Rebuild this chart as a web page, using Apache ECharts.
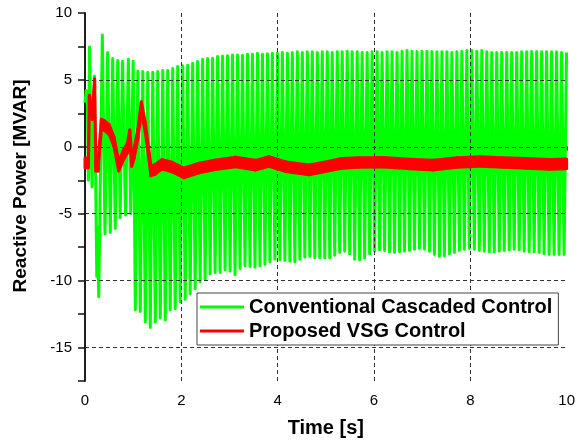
<!DOCTYPE html>
<html><head><meta charset="utf-8">
<script src="https://cdn.jsdelivr.net/npm/echarts@6/dist/echarts.min.js"></script>
<style>html,body{margin:0;padding:0;background:#fff}#c{width:578px;height:443px}</style>
</head><body><div id="c"></div>
<script>
// ---- axis ticks ----
const xGridTicks = [2, 4, 6, 8];
const yGridTicks = [-15, -10, -5, 0, 5];

// ---- Conventional Cascaded Control (green) ----
// irregular start-up extremes (time s, value MVAR)
const greenEarlyT = [0, 0.025, 0.05, 0.07, 0.093, 0.145, 0.197, 0.245, 0.262, 0.285, 0.36, 0.415, 0.47, 0.525, 0.575, 0.628, 0.68, 0.73, 0.78, 0.84, 0.9, 0.95, 1.0];
const greenEarlyV = [3.3, 4.2, 3.3, -2.5, 7.45, -3.0, 5.3, -9.7, -6.0, -11.2, 8.35, -6.5, 7.05, -6.4, 6.6, -6.1, 6.45, -5.3, 6.4, -5.1, 6.55, -5.0, 6.4];
// steady oscillation after t = 1.045 s, one trough + one peak per cycle
const greenCycleStart = 1.045;
const greenCyclePeriod = 0.1035;
const greenLow = [-12.2,-12.3,-13.1,-13.5,-13.1,-12.8,-12.95,-12.2,-12.1,-11.6,
  -11.4,-11.0,-10.6,-10.1,-9.9,-9.5,-9.4,-9.4,-9.2,-9.3,
  -9.55,-9.1,-8.9,-8.95,-9.0,-8.9,-8.8,-8.6,-8.4,-8.45,
  -8.5,-8.55,-8.6,-8.4,-8.25,-8.2,-8.3,-8.3,-8.3,-8.3,
  -8.1,-7.9,-7.8,-8.0,-8.4,-8.45,-8.3,-8.0,-7.8,-7.7,
  -7.75,-7.85,-7.9,-7.85,-7.8,-7.75,-7.65,-7.6,-7.65,-7.8,
  -8.05,-8.2,-8.15,-8.0,-7.9,-7.75,-7.65,-7.6,-7.65,-7.75,
  -7.8,-7.85,-7.85,-7.8,-7.75,-7.7,-7.65,-7.7,-7.8,-7.85,
  -7.85,-7.9,-8.0,-8.05,-8.05,-8.05,-8.05];
const greenHigh = [5.67,5.62,5.57,5.57,5.62,5.7,5.7,5.85,6.0,6.05,
  6.1,6.24,6.37,6.55,6.6,6.62,6.74,6.78,6.8,6.86,
  6.86,6.84,6.92,6.92,7.0,6.92,6.95,7.0,
  7.0,7.05,7.0,7.05,7.1,7.05,7.1,7.1,7.05,7.1,7.1,7.05,7.1,7.1,7.15,7.1,7.1,7.05,7.05,7.1,7.1,7.05,
  7.1,7.1,7.05,7.15,7.2,7.15,7.12,7.15,7.15,7.12,7.1,7.1,7.1,7.05,7.1,7.15,7.2,7.2,7.15,7.2,
  7.1,7.05,7.05,7.05,7.05,7.05,7.05,7.1,7.1,7.12,7.12,7.1,7.1,7.1,7.1,7.05,7.05];

// ---- Proposed VSG Control (red): centre of the noisy band ----
const redT = [0,0.07,0.09,0.12,0.15,0.2,0.225,0.27,0.34,0.4,
  0.5,0.6,0.7,0.8,0.88,0.93,0.97,1.02,1.1,1.17,
  1.25,1.37,1.45,1.6,1.8,2.05,2.37,2.71,3.13,3.54,
  3.82,4.17,4.65,4.99,5.33,5.68,6.2,6.75,7.23,7.72,
  8.2,8.68,9.17,9.65,10];
const redC = [-1.2,-1.2,3.5,2.8,2.4,4.7,-1.45,-1.45,1.7,1.6,
  1.3,0.4,-1.45,-0.6,-0.1,0.9,-1.1,-0.5,1.0,3.0,
  1.5,-1.8,-1.7,-1.3,-1.5,-1.95,-1.58,-1.34,-1.13,-1.37,
  -1.1,-1.49,-1.72,-1.49,-1.24,-1.17,-1.15,-1.28,-1.37,-1.17,
  -1.1,-1.17,-1.24,-1.31,-1.27];
const redBandWidth = 0.72;

// ---- build series data ----
const greenData = greenEarlyT.map((t, i) => [t, greenEarlyV[i]]);
for (let i = 0; i < greenLow.length; i++) {
  const t0 = greenCycleStart + i * greenCyclePeriod;
  greenData.push([t0, greenLow[i]]);
  greenData.push([t0 + greenCyclePeriod / 2, greenHigh[i]]);
}
const redData = redT.map((t, i) => [t, redC[i]]);

function renderRedBand(params, api) {
  const i = params.dataIndex;
  if (i >= redT.length - 1) return {type: 'group', children: []};
  const h = redBandWidth / 2;
  const pts = [
    api.coord([redT[i], redC[i] - h]),
    api.coord([redT[i + 1], redC[i + 1] - h]),
    api.coord([redT[i + 1], redC[i + 1] + h]),
    api.coord([redT[i], redC[i] + h])
  ];
  return {type: 'polygon', shape: {points: pts},
    style: {fill: '#ff0000', stroke: '#ff0000', lineWidth: 3, lineJoin: 'round'}};
}

const FONT = "'Liberation Sans', Arial, sans-serif";
const axisLine = {show: true, lineStyle: {color: '#111', width: 1.5}};
const chart = echarts.init(document.getElementById('c'), null, {renderer: 'canvas'});
chart.setOption({
  animation: false,
  textStyle: {fontFamily: FONT},
  grid: {left: 85, right: 10, top: 13, bottom: 61},
  legend: {
    orient: 'vertical', left: 197, top: 293, z: 10,
    itemWidth: 44, itemHeight: 3, itemGap: 4,
    padding: [4, 6, 4, 3],
    backgroundColor: '#fff', borderColor: '#444', borderWidth: 1,
    textStyle: {fontSize: 20, fontWeight: 'bold', color: '#000', fontFamily: FONT},
    data: [{name: 'Conventional Cascaded Control', icon: 'rect'}, {name: 'Proposed VSG Control', icon: 'rect'}]
  },
  xAxis: [{
    type: 'value', min: 0, max: 10, interval: 1, position: 'bottom',
    axisLine: axisLine,
    axisTick: {show: true, inside: false, length: 4, lineStyle: {color: '#111', width: 1.5}},
    axisLabel: {fontSize: 15, color: '#000', margin: 12, fontFamily: FONT,
      formatter: v => (v % 2 === 0 ? String(v) : '')},
    splitLine: {show: false},
    name: 'Time [s]', nameLocation: 'middle', nameGap: 37,
    nameTextStyle: {fontSize: 20, fontWeight: 'bold', color: '#000', fontFamily: FONT}
  }, {
    type: 'value', min: 0, max: 10, interval: 1, position: 'top',
    axisLine: axisLine,
    axisTick: {show: true, inside: true, length: 4, lineStyle: {color: '#111', width: 1.5}},
    axisLabel: {show: false}, splitLine: {show: false}
  }],
  yAxis: [{
    type: 'value', min: -17.5, max: 10, interval: 2.5, position: 'left',
    axisLine: axisLine,
    axisTick: {show: true, inside: false, length: 7, lineStyle: {color: '#111', width: 1.5}},
    axisLabel: {fontSize: 15, color: '#000', margin: 13, fontFamily: FONT,
      formatter: v => (v % 5 === 0 ? String(v) : '')},
    splitLine: {show: false},
    name: 'Reactive Power [MVAR]', nameLocation: 'middle', nameGap: 55, nameRotate: 90,
    nameTextStyle: {fontSize: 19, fontWeight: 'bold', color: '#000', fontFamily: FONT,
      padding: [0, 0, 0, 22]}
  }, {
    type: 'value', min: -17.5, max: 10, interval: 2.5, position: 'right',
    axisLine: axisLine,
    axisTick: {show: true, inside: true, length: 5, lineStyle: {color: '#111', width: 1.5}},
    axisLabel: {show: false}, splitLine: {show: false}
  }],
  series: [{
    name: 'Conventional Cascaded Control', type: 'line', data: greenData,
    xAxisIndex: 0, yAxisIndex: 0, z: 2,
    showSymbol: false, symbol: 'none',
    lineStyle: {color: '#00ff00', width: 3, join: 'round'},
    itemStyle: {color: '#00ff00'}
  }, {
    type: 'line', data: [], xAxisIndex: 0, yAxisIndex: 0, z: 3,
    markLine: {
      silent: true, symbol: 'none', animation: false,
      label: {show: false},
      lineStyle: {color: '#333', width: 1, type: [4, 3]},
      data: yGridTicks.map(v => ({yAxis: v})).concat(xGridTicks.map(v => ({xAxis: v})))
    }
  }, {
    name: 'Proposed VSG Control', type: 'custom', data: redData,
    xAxisIndex: 0, yAxisIndex: 0, z: 6,
    encode: {x: 0, y: 1},
    renderItem: renderRedBand,
    itemStyle: {color: '#ff0000'}
  }]
});
</script></body></html>
